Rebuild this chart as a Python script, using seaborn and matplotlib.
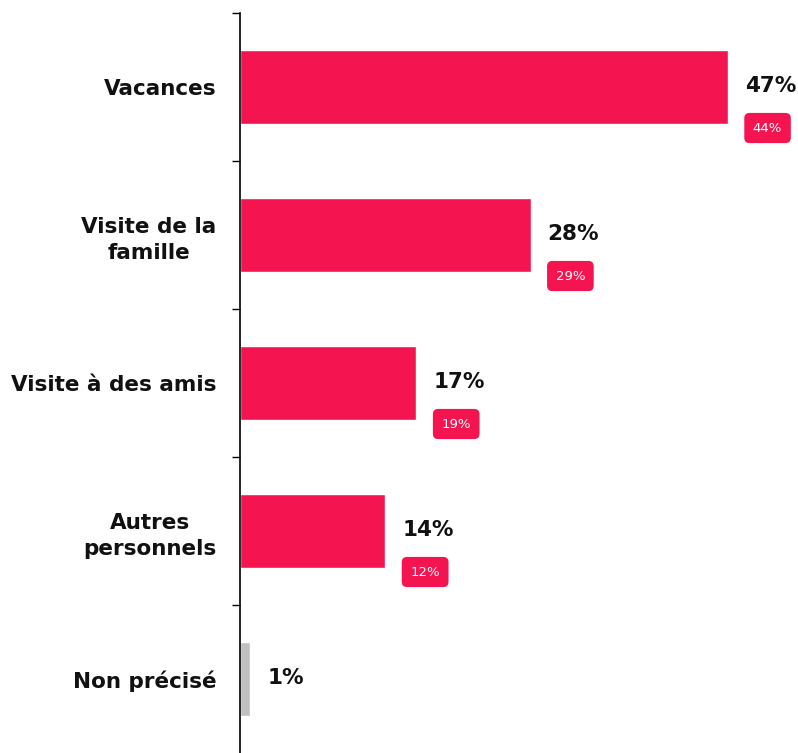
import matplotlib
matplotlib.use("Agg")
import matplotlib.pyplot as plt
import pandas as pd
import seaborn as sns

categories = ["Vacances", "Visite de la\nfamille", "Visite à des amis", "Autres\npersonnels", "Non précisé"]
values = [47, 28, 17, 14, 1]
previous = [44, 29, 19, 12, None]
bar_colors = ["#F41450", "#F41450", "#F41450", "#F41450", "#C0C0C0"]

PINK = "#F41450"

sns.set_theme(style="white")
plt.rcParams["font.family"] = ["DejaVu Sans"]

df = pd.DataFrame({"cat": categories, "val": values})

fig = plt.figure(figsize=(7.98, 7.53), dpi=100)
ax = fig.add_axes([240 / 798, 0, 558 / 798, 740 / 753])

sns.barplot(data=df, x="val", y="cat", hue="cat", palette=bar_colors,
            width=0.5, legend=False, ax=ax, saturation=1)

ax.set_xlim(0, 558 / 10.38)
ax.set_ylim(4.5, -0.5)
ax.set_xlabel("")
ax.set_ylabel("")
ax.set_xticks([])

for s in ["top", "right", "bottom"]:
    ax.spines[s].set_visible(False)
ax.spines["left"].set_color("black")
ax.spines["left"].set_linewidth(1.2)

ax.set_yticks(range(len(categories)))
ax.set_yticklabels(categories, fontsize=15.5, fontweight="bold", color="#111111",
                   multialignment="center", linespacing=1.4)
ax.tick_params(axis="y", which="major", length=0, pad=17)
ax.set_yticks([i - 0.5 for i in range(len(categories))], minor=True)
ax.tick_params(axis="y", which="minor", length=6, width=1, color="black", left=True)

for i, (v, p) in enumerate(zip(values, previous)):
    ax.annotate(f"{v}%", xy=(v, i), xytext=(17, 1), textcoords="offset pixels",
                ha="left", va="center", fontsize=15.5, fontweight="bold", color="#111111")
    if p is not None:
        ax.annotate(f"{p}%", xy=(v, i), xytext=(25, -41), textcoords="offset pixels",
                    ha="left", va="center", fontsize=9.5, color="white",
                    bbox=dict(boxstyle="round,pad=0.65,rounding_size=0.4", fc=PINK, ec="none"))

fig.savefig("out.png", dpi=100)
